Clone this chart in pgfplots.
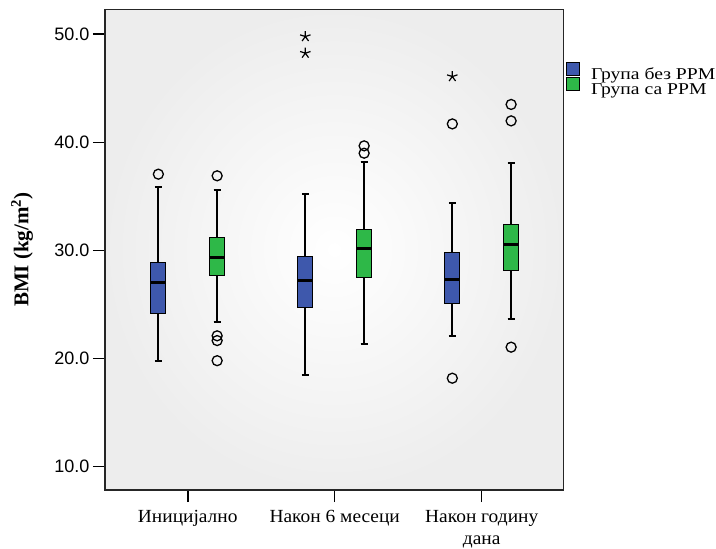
\documentclass[border=0pt]{standalone}
\usepackage{fontspec}
\setmainfont{Liberation Serif}
\setsansfont{Liberation Sans}
\newfontfamily\labelfont[FakeStretch=1.05]{Liberation Serif}
\newfontfamily\legendfont[FakeStretch=1.19]{Liberation Serif}
\usepackage{pgfplots}
\pgfplotsset{compat=1.18}
\usepgfplotslibrary{statistics}

\definecolor{spssblue}{RGB}{62,88,172}
\definecolor{spssgreen}{RGB}{46,184,72}

\begin{document}
\begin{tikzpicture}[x=1pt,y=1pt]
\begin{axis}[
  name=ax,
  scale only axis, width=458.3pt, height=480.7pt,
  xmin=-0.563, xmax=2.555, ymin=7.84, ymax=52.3,
  axis background/.style={inner color=white, outer color=black!7},
  axis line style={line width=1.5pt, black!85},
  tick align=outside, xtick pos=bottom, ytick pos=left,
  major tick length=12pt,
  every tick/.style={black, line width=1.5pt},
  xtick={0,1,2},
  xticklabels={Иницијално, Након 6 месеци, {Након годину\\дана}},
  xticklabel style={font=\labelfont\fontsize{18.5}{22.5}\selectfont, align=center, yshift=-4.5pt},
  ytick={10,20,30,40,50},
  yticklabel={\pgfmathprintnumber[fixed,fixed zerofill,precision=1,assume math mode=true]{\tick}},
  yticklabel style={font=\sffamily\fontsize{18}{20}\selectfont},
  ylabel={BMI (kg/m\textsuperscript{2})},
  every axis y label/.style={at={(axis description cs:-0.181,0.5)}, anchor=center, rotate=90,
    font=\bfseries\fontsize{21}{24}\selectfont},
  boxplot/draw direction=y,
  boxplot/box extend=0.104,
  boxplot/whisker extend=0.048,
  boxplot/every box/.style={draw=black, line width=1pt},
  boxplot/every whisker/.style={draw=black, line width=2.2pt},
  boxplot/every median/.style={draw=black, line width=3pt},
  legend image code/.code={\draw[#1] (0pt,-1pt) rectangle (13pt,12pt);},
  legend style={at={(axis description cs:1,1)}, anchor=north west,
    xshift=2.7pt, yshift=-52.5pt, draw=none, fill=none, inner sep=0pt,
    font=\legendfont\fontsize{16.5}{19}\selectfont, column sep=11pt, row sep=-3.8pt,
    nodes={inner sep=0pt}},
  legend cell align=left,
]
% blue group (without RPM) and green group (with RPM), three time points
\addplot[forget plot, fill=spssblue, draw=black, mark=o, mark size=5pt,
  mark options={line width=1.3pt, draw=black},
  boxplot prepared={draw position=-0.2, lower whisker=19.8, lower quartile=24.19,
    median=27.06, upper quartile=28.9, upper whisker=35.9}]
  coordinates {(0,37.05)};
\addplot[forget plot, fill=spssgreen, draw=black, mark=o, mark size=5pt,
  mark options={line width=1.3pt, draw=black},
  boxplot prepared={draw position=0.2, lower whisker=23.4, lower quartile=27.7,
    median=29.37, upper quartile=31.2, upper whisker=35.6}]
  coordinates {(0,36.9) (0,22.1) (0,21.66) (0,19.8)};
\addplot[forget plot, fill=spssblue, draw=black, mark=o, mark size=5pt,
  mark options={line width=1.3pt, draw=black},
  boxplot prepared={draw position=0.8, lower whisker=18.48, lower quartile=24.75,
    median=27.18, upper quartile=29.43, upper whisker=35.2}]
  coordinates {};
\addplot[forget plot, fill=spssgreen, draw=black, mark=o, mark size=5pt,
  mark options={line width=1.3pt, draw=black},
  boxplot prepared={draw position=1.2, lower whisker=21.38, lower quartile=27.48,
    median=30.17, upper quartile=31.9, upper whisker=38.2}]
  coordinates {(0,39.67) (0,38.99)};
\addplot[forget plot, fill=spssblue, draw=black, mark=o, mark size=5pt,
  mark options={line width=1.3pt, draw=black},
  boxplot prepared={draw position=1.8, lower whisker=22.09, lower quartile=25.1,
    median=27.34, upper quartile=29.8, upper whisker=34.37}]
  coordinates {(0,41.7) (0,18.18)};
\addplot[forget plot, fill=spssgreen, draw=black, mark=o, mark size=5pt,
  mark options={line width=1.3pt, draw=black},
  boxplot prepared={draw position=2.2, lower whisker=23.69, lower quartile=28.13,
    median=30.51, upper quartile=32.36, upper whisker=38.07}]
  coordinates {(0,43.5) (0,41.98) (0,21.05)};
% extreme values
\addplot[forget plot, only marks, mark=star, mark size=5.5pt,
  mark options={line width=1.2pt, draw=black}]
  coordinates {(0.8,49.78) (0.8,48.24) (1.8,46.08)};
\addlegendimage{fill=spssblue, draw=black, line width=0.8pt}
\addlegendentry{Група без РРМ}
\addlegendimage{fill=spssgreen, draw=black, line width=0.8pt}
\addlegendentry{Група са РРМ}
\end{axis}
% page frame: 716 x 549 around the plot box
\pgfresetboundingbox
\useasboundingbox ([xshift=-105pt,yshift=-59pt]ax.south west) rectangle ++(716pt,549pt);
\end{tikzpicture}
\end{document}
